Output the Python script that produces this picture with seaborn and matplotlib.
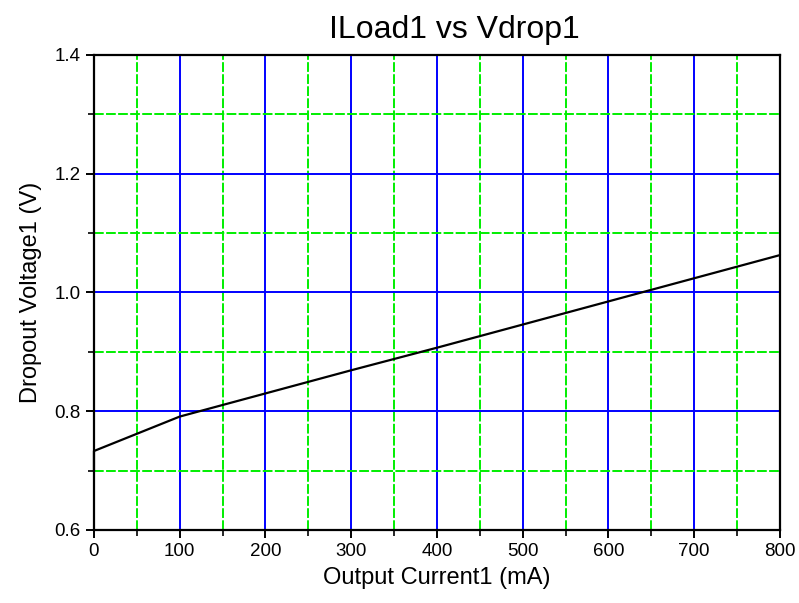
import numpy as np
import pandas as pd
import matplotlib
matplotlib.use("Agg")
import matplotlib.pyplot as plt
import seaborn as sns
from matplotlib.ticker import MultipleLocator, FormatStrFormatter

# values
current_ma = [0, 0, 50, 100, 200, 300, 400, 500, 600, 700, 800]
dropout_v = [0.700, 0.733, 0.762, 0.791, 0.830, 0.869, 0.907, 0.946, 0.985, 1.024, 1.063]

df = pd.DataFrame({"Output Current1 (mA)": current_ma,
                   "Dropout Voltage1 (V)": dropout_v})

sns.set_style("white")
plt.rcParams['font.family'] = ['Liberation Sans', 'DejaVu Sans']
plt.rcParams['text.color'] = 'black'
plt.rcParams['axes.labelcolor'] = 'black'

fig = plt.figure(figsize=(7.99, 6.03), dpi=100)
ax = fig.add_axes([0.1176, 0.1211, 0.8586, 0.7877])

sns.lineplot(data=df, x="Output Current1 (mA)", y="Dropout Voltage1 (V)",
             sort=False, estimator=None, color="black", linewidth=1.6, ax=ax)
for ln in ax.lines:
    ln.set_clip_on(False)
    ln.set_zorder(3)

ax.set_xlim(0, 800)
ax.set_ylim(0.6, 1.4)
ax.xaxis.set_major_locator(MultipleLocator(100))
ax.xaxis.set_minor_locator(MultipleLocator(50))
ax.yaxis.set_major_locator(MultipleLocator(0.2))
ax.yaxis.set_minor_locator(MultipleLocator(0.1))
ax.yaxis.set_major_formatter(FormatStrFormatter('%.1f'))

ax.grid(which='major', color='#0000ff', linewidth=1.4, linestyle='-')
ax.grid(which='minor', color='#00ee00', linewidth=1.4, linestyle=(0, (5, 1.2)))
ax.set_axisbelow(True)

for s in ax.spines.values():
    s.set_color('black')
    s.set_linewidth(1.6)

ax.tick_params(which='major', direction='out', length=6, width=1.4,
               labelsize=13.5, colors='black', bottom=True, left=True)
ax.tick_params(which='minor', direction='out', length=4, width=1.4,
               bottom=True, left=True)

ax.set_xlabel("Output Current1 (mA)", fontsize=17, labelpad=5)
ax.set_ylabel("Dropout Voltage1 (V)", fontsize=17, labelpad=9)
ax.set_title("ILoad1 vs Vdrop1", fontsize=23, x=0.525, pad=12, color='black')

fig.savefig("out.png", dpi=100)
